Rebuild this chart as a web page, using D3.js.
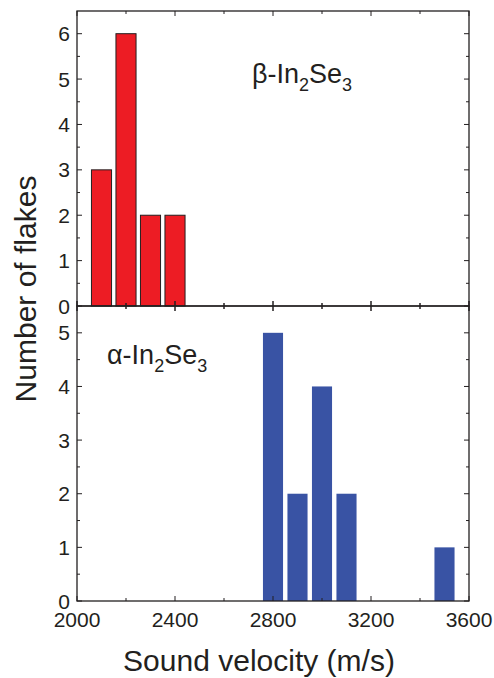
<!DOCTYPE html>
<html>
<head>
<meta charset="utf-8">
<script src="https://cdn.jsdelivr.net/npm/d3@7"></script>
<style>
  body { margin: 0; background: #fff; }
  svg text { font-family: 'Liberation Sans', Arial, sans-serif; fill: #231f20; }
</style>
</head>
<body>
<svg id="chart" width="494" height="678"></svg>
<script>
// beta phase histogram (top panel)
const betaVelocity = [2100, 2200, 2300, 2400];
const betaCount = [3, 6, 2, 2];
// alpha phase histogram (bottom panel)
const alphaVelocity = [2800, 2900, 3000, 3100, 3500];
const alphaCount = [5, 2, 4, 2, 1];
const xTicks = [2000, 2400, 2800, 3200, 3600];
const topTicks = [0, 1, 2, 3, 4, 5, 6];
const bottomTicks = [0, 1, 2, 3, 4, 5];

const svg = d3.select('#chart');
const DIM = { left: 77, right: 469, top: 11, mid: 306, bottom: 601 };
const ink = '#231f20';
const barWidth = 82;

const xScale = d3.scaleLinear().domain([2000, 3600]).range([DIM.left, DIM.right]);
const yTop = d3.scaleLinear().domain([0, 6.5]).range([DIM.mid, DIM.top]);
const yBottom = d3.scaleLinear().domain([0, 5.5]).range([DIM.bottom, DIM.mid]);

function drawPanel(yScale, ticks, velocity, counts, fill, stroke, y0, y1, topCross, bottomCross) {
  const g = svg.append('g');

  // bars
  g.selectAll('rect')
    .data(velocity.map((v, i) => ({ v: v, n: counts[i] })))
    .join('rect')
    .attr('x', d => xScale(d.v - barWidth / 2))
    .attr('width', xScale(barWidth) - xScale(0))
    .attr('y', d => yScale(d.n))
    .attr('height', d => yScale(0) - yScale(d.n))
    .attr('fill', fill)
    .attr('stroke', stroke)
    .attr('stroke-width', stroke === 'none' ? 0 : 1);

  // frame
  g.append('rect')
    .attr('x', DIM.left).attr('y', y0)
    .attr('width', DIM.right - DIM.left).attr('height', y1 - y0)
    .attr('fill', 'none').attr('stroke', ink).attr('stroke-width', 1.3);

  // y ticks, left and right, inside
  const minorY = d3.range(0.5, yScale.domain()[1], 1);
  [[DIM.left, 1], [DIM.right, -1]].forEach(([x, dir]) => {
    g.selectAll(null).data(ticks).join('line')
      .attr('x1', x).attr('x2', x + dir * 5)
      .attr('y1', d => yScale(d)).attr('y2', d => yScale(d))
      .attr('stroke', ink).attr('stroke-width', 1);
    g.selectAll(null).data(minorY).join('line')
      .attr('x1', x).attr('x2', x + dir * 3)
      .attr('y1', d => yScale(d)).attr('y2', d => yScale(d))
      .attr('stroke', ink).attr('stroke-width', 1);
  });

  // y labels
  g.selectAll(null).data(ticks).join('text')
    .attr('x', DIM.left - 7)
    .attr('y', d => yScale(d))
    .attr('dy', '0.36em')
    .attr('text-anchor', 'end')
    .attr('font-size', 21)
    .text(d => d);

  // x ticks on top and bottom edges
  const majorX = xTicks;
  const minorX = d3.range(2200, 3600, 400);
  [[y0, 1, topCross], [y1, -1, bottomCross]].forEach(([y, dir, cross]) => {
    g.selectAll(null).data(majorX).join('line')
      .attr('x1', d => xScale(d)).attr('x2', d => xScale(d))
      .attr('y1', y - (cross ? dir * 5 : 0)).attr('y2', y + dir * 5)
      .attr('stroke', ink).attr('stroke-width', 1);
    g.selectAll(null).data(minorX).join('line')
      .attr('x1', d => xScale(d)).attr('x2', d => xScale(d))
      .attr('y1', y - (cross ? dir * 3 : 0)).attr('y2', y + dir * 3)
      .attr('stroke', ink).attr('stroke-width', 1);
  });
  return g;
}

drawPanel(yTop, topTicks, betaVelocity, betaCount, '#ed1c24', ink, DIM.top, DIM.mid, false, true);
drawPanel(yBottom, bottomTicks, alphaVelocity, alphaCount, '#3953a4', 'none', DIM.mid, DIM.bottom, true, false);

// x tick labels
svg.append('g').selectAll('text').data(xTicks).join('text')
  .attr('x', d => xScale(d))
  .attr('y', DIM.bottom + 26)
  .attr('text-anchor', 'middle')
  .attr('font-size', 21)
  .text(d => d);

// phase labels
function phaseLabel(x, y, greek) {
  const t = svg.append('text').attr('x', x).attr('y', y).attr('font-size', 27);
  t.append('tspan').text(greek + '-In');
  t.append('tspan').attr('font-size', 18).attr('dy', 8).text('2');
  t.append('tspan').attr('dy', -8).text('Se');
  t.append('tspan').attr('font-size', 18).attr('dy', 8).text('3');
}
phaseLabel(252, 83, 'β');
phaseLabel(107, 364, 'α');

// axis titles
svg.append('text')
  .attr('x', 259)
  .attr('y', 671)
  .attr('text-anchor', 'middle')
  .attr('font-size', 30)
  .text('Sound velocity (m/s)');

svg.append('text')
  .attr('transform', `translate(36, 289) rotate(-90)`)
  .attr('text-anchor', 'middle')
  .attr('font-size', 30)
  .text('Number of flakes');
</script>
</body>
</html>
